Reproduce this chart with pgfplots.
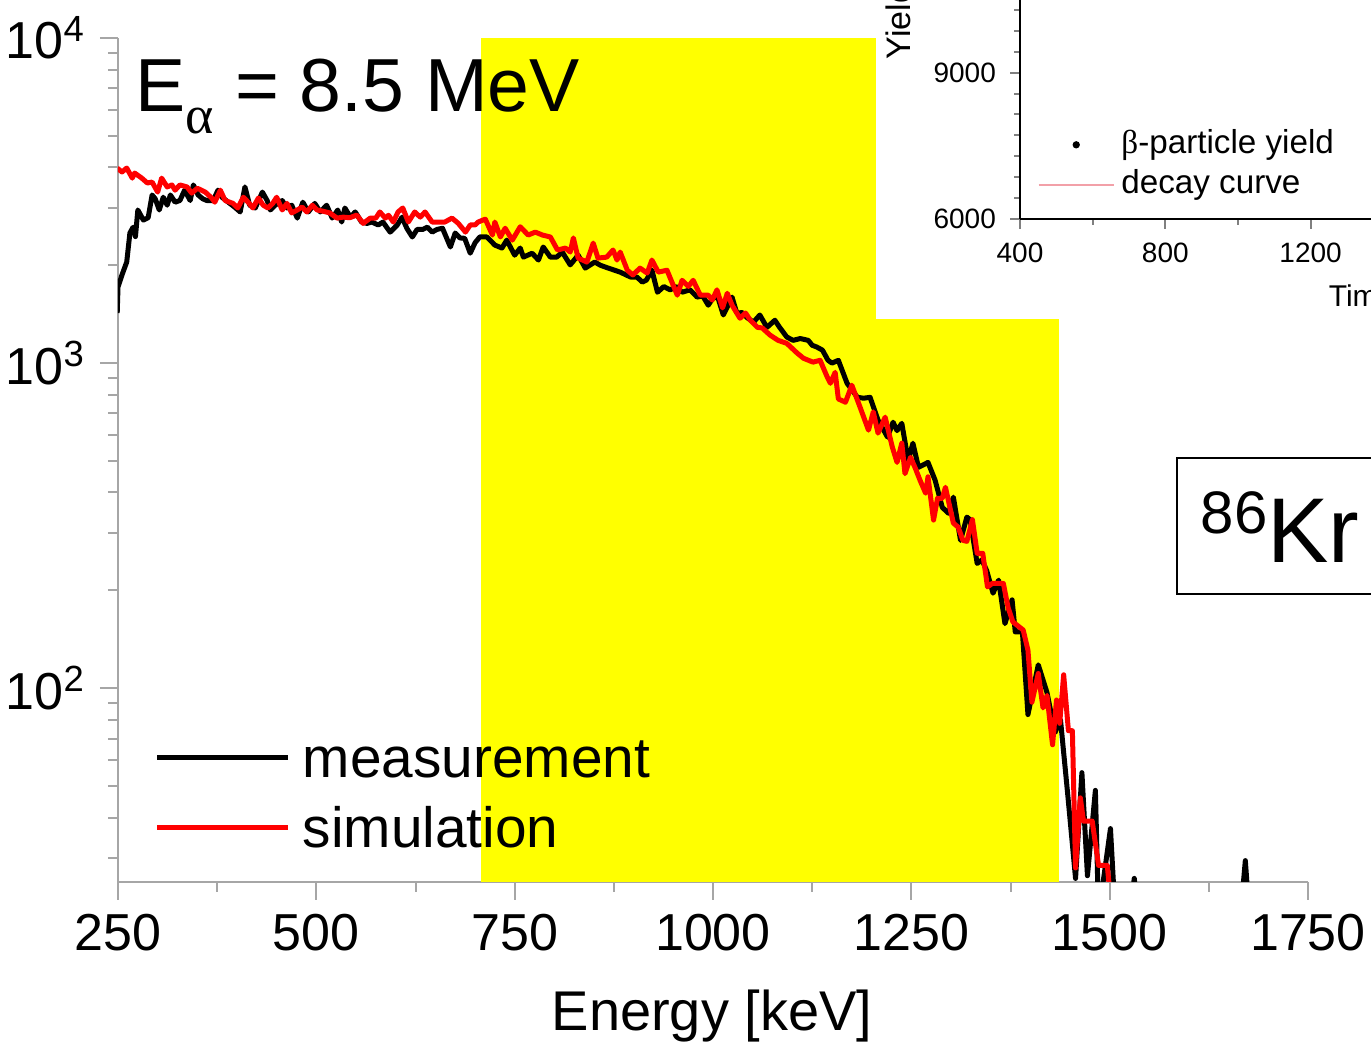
\documentclass[border=0pt]{standalone}
\usepackage{fontspec}
\setmainfont{Liberation Sans}
\newfontfamily\seriffont{Liberation Serif}
\usepackage{pgfplots}
\pgfplotsset{compat=1.18}
\definecolor{axisgray}{HTML}{A6A6A6}
\definecolor{decayred}{HTML}{F2A0A8}
\definecolor{hlyellow}{HTML}{FFFF00}
\begin{document}
\begin{tikzpicture}
\useasboundingbox (0,0) rectangle (342.75pt,260.25pt);
\clip (0,0) rectangle (342.75pt,260.25pt);
% ---------------- main axis ----------------
\begin{axis}[
  at={(29.5pt,39.75pt)}, anchor=south west,
  scale only axis, width=297.5pt, height=211pt,
  xmin=250, xmax=1750, ymode=log, ymin=25.35, ymax=10000,
  axis x line*=bottom, axis y line*=left,
  axis line style={draw=axisgray, line width=0.5pt, -},
  tick style={draw=axisgray, line width=0.5pt},
  tick align=outside, tick pos=left,
  major tick length=4.5pt, minor tick length=2.5pt,
  xtick={250,500,750,1000,1250,1500,1750},
  xticklabels={250,500,750,1000,1250,1500,1750},
  minor x tick num=1,
  ytick={100,1000,10000},
  yticklabels={10\textsuperscript{2},10\textsuperscript{3},10\textsuperscript{4}},
  minor ytick={30,40,50,60,70,80,90,200,300,400,500,600,700,800,900,2000,3000,4000,5000,6000,7000,8000,9000},
  ticklabel style={font=\fontsize{13}{15}\selectfont},
  legend image code/.code={\draw[#1] (0pt,0pt) -- (32.75pt,0pt);},
  legend style={at={(0.0303,0.1718)}, anchor=north west, draw=none, fill=none,
    inner sep=0pt, row sep=7.5pt,
    font=\fontsize{14.2}{16}\selectfont,
    nodes={inner sep=0pt, text height=10pt, text depth=0pt},
    /tikz/every odd column/.append style={column sep=3pt}},
  legend cell align=left,
]
\fill[hlyellow] (axis cs:707.7,10000) rectangle (axis cs:1205.7,10);
\fill[hlyellow] (axis cs:1205.7,1371) rectangle (axis cs:1436,10);
\addplot[black, line width=1.25pt, line join=round] coordinates {
(249,1425) (250,1714) (255,1867) (261,2046) (265,2513) (269,2619) (272,2450) (275,2958)
(282,2754) (288,2800) (293,3290) (297,3200) (302,2958) (307,3238) (312,3060) (316,3290)
(322,3126) (328,3163) (334,3404) (341,3163) (345,3532) (351,3290) (357,3200) (362,3163)
(370,3163) (376,3404) (381,3238) (389,3126) (397,3020) (404,2917) (410,3483) (416,3060)
(423,3000) (432,3358) (438,3163) (442,2958) (448,3060) (457,3163) (463,3000) (469,3060)
(476,2793) (483,3126) (490,2917) (498,3100) (505,2917) (513,3060) (520,2793) (527,2958)
(532,2716) (536,3000) (543,2812) (549,2917) (557,2716) (564,2690) (570,2716) (578,2660)
(584,2716) (593,2529) (602,2660) (608,2812) (614,2600) (621,2443) (627,2577) (634,2577)
(640,2619) (646,2529) (652,2577) (659,2600) (669,2276) (675,2513) (681,2427) (687,2420)
(694,2178) (700,2344) (706,2443) (715,2443) (725,2307) (734,2259) (740,2389) (750,2148)
(757,2259) (761,2118) (772,2178) (780,2075) (786,2276) (795,2118) (803,2118) (810,2196)
(820,2005) (830,2148) (839,1960) (851,2046) (858,2000) (868,1960) (883,1905) (896,1840)
(904,1840) (911,1775) (916,1800) (923,1931) (930,1652) (938,1720) (946,1680) (954,1720)
(961,1652) (971,1680) (980,1596) (987,1610) (994,1507) (1000,1585) (1006,1596) (1013,1406)
(1024,1596) (1030,1426) (1037,1430) (1043,1380) (1051,1336) (1059,1406) (1068,1288) (1078,1355)
(1084,1288) (1093,1203) (1101,1175) (1110,1190) (1120,1175) (1125,1135) (1131,1120) (1138,1096)
(1145,1020) (1150,1000) (1158,1020) (1169,867) (1182,785) (1190,780) (1198,785) (1208,668)
(1220,592) (1227,658) (1232,620) (1238,653) (1246,502) (1252,567) (1259,478) (1271,495)
(1280,436) (1289,360) (1297,345) (1303,387) (1312,285) (1320,336) (1324,330) (1333,242)
(1339,248) (1345,230) (1353,196) (1360,215) (1368,158) (1377,187) (1381,149) (1390,149)
(1397,83) (1410,118) (1421,97) (1431,73) (1438,80) (1447,47.5) (1457,26) (1465,55)
(1472,26.5) (1482,48.5) (1486,20) (1501,37) (1507,20) (1525,20) (1531,26) (1536,20)
(1665,20) (1671,29.5) (1676,20)
};
\addlegendentry{measurement}
\addplot[red, line width=1.25pt, line join=round] coordinates {
(249,3981) (255,3872) (261,3981) (268,3707) (271,3843) (280,3707) (287,3581) (293,3605)
(300,3358) (305,3707) (312,3483) (318,3532) (322,3404) (328,3532) (337,3483) (343,3334)
(350,3451) (360,3358) (368,3221) (372,3126) (379,3404) (385,3163) (395,3100) (401,3000)
(408,3238) (414,3126) (420,3000) (427,3221) (433,3060) (439,3000) (445,3100) (450,3238)
(457,2958) (463,3100) (469,2897) (476,2958) (482,3020) (488,2917) (495,3060) (501,2958)
(509,2930) (517,2897) (526,2793) (534,2812) (542,2800) (551,2853) (559,2690) (568,2793)
(575,2793) (580,2917) (587,2793) (591,2850) (597,2716) (603,2917) (609,3000) (616,2716)
(624,2917) (631,2812) (637,2917) (646,2716) (653,2716) (662,2716) (671,2793) (679,2690)
(688,2529) (694,2660) (700,2660) (704,2716) (713,2773) (722,2477) (725,2716) (732,2443)
(738,2600) (747,2389) (757,2627) (767,2477) (776,2529) (785,2477) (795,2443) (804,2228)
(814,2259) (820,2196) (824,2427) (830,2104) (841,2046) (849,2340) (855,2104) (866,2118)
(874,2228) (879,2075) (883,2196) (892,1931) (899,1867) (908,1960) (917,1892) (923,2075)
(931,1905) (942,1931) (955,1618) (961,1798) (969,1722) (975,1798) (984,1618) (994,1618)
(999,1563) (1005,1680) (1012,1479) (1018,1640) (1024,1507) (1034,1374) (1041,1426) (1047,1355)
(1056,1288) (1062,1283) (1072,1219) (1082,1175) (1093,1150) (1106,1074) (1114,1035) (1126,1007)
(1135,1020) (1144,906) (1148,867) (1154,937) (1158,776) (1167,758) (1175,855) (1186,725)
(1196,622) (1202,708) (1208,609) (1217,682) (1226,552) (1232,495) (1238,567) (1242,457)
(1249,513) (1255,475) (1261,436) (1268,398) (1271,447) (1278,329) (1283,384) (1289,384)
(1293,415) (1303,322) (1309,313) (1315,285) (1320,283) (1327,330) (1333,260) (1340,260)
(1346,205) (1352,210) (1358,210) (1366,210) (1372,177) (1378,160) (1391,151) (1397,131)
(1402,90.6) (1410,111) (1416,87) (1421,95) (1428,67) (1433,92) (1437,78) (1442,110)
(1448,74) (1453,74) (1457,28) (1463,46) (1467,39) (1478,39) (1486,28.5) (1497,28.5)
(1503,20)
};
\addlegendentry{simulation}
\end{axis}
% ---------------- inset axis ----------------
\begin{axis}[
  at={(255pt,205.5pt)}, anchor=south west,
  scale only axis, width=145.3pt, height=73.15pt,
  xmin=400, xmax=2000, ymin=6000, ymax=12000,
  axis x line*=bottom, axis y line*=left,
  axis line style={-, line width=0.5pt},
  tick style={line width=0.5pt},
  tick pos=left, tick align=outside,
  major tick length=2.5pt, minor tick length=1.5pt,
  xtick={400,800,1200}, xticklabels={400,800,1200},
  ytick={6000,9000}, yticklabels={6000,9000},
  minor xtick={600,1000},
  minor ytick={6428.6,6857.1,7285.7,7714.3,8142.9,8571.4,9428.6,9857.1,10285.7,10714.3},
  ticklabel style={font=\fontsize{7}{8}\selectfont},
  legend image code/.code={\draw[mark repeat=2,mark phase=2,#1] plot coordinates {(0pt,0pt) (9.4pt,0pt) (18.75pt,0pt)};},
  legend style={at={(0.0293,0.3144)}, anchor=north west, draw=none, fill=none,
    inner sep=0pt, row sep=1.5pt,
    font=\fontsize{8.3}{9}\selectfont,
    nodes={inner sep=0pt, text height=6.5pt, text depth=2pt},
    /tikz/every odd column/.append style={column sep=1.75pt}},
  legend cell align=left,
]
\addlegendimage{only marks, mark=*, mark size=0.7pt, black}
\addlegendentry{{\seriffont β}-particle yield}
\addlegendimage{decayred, line width=0.4pt}
\addlegendentry{decay curve}
\end{axis}
% ---------------- texts ----------------
\node[anchor=base west, inner sep=0pt] at (33.75pt,232.25pt)
  {\fontsize{18.8}{21}\selectfont E\raisebox{-5.5pt}{\fontsize{13.5}{15}\selectfont\seriffont α} = 8.5 MeV};
\node[anchor=base, inner sep=0pt] at (178pt,2.75pt) {\fontsize{14}{16}\selectfont Energy [keV]};
\draw[line width=0.7pt] (294.25pt,111.75pt) rectangle (352pt,145.75pt);
\node[anchor=base west, inner sep=0pt] at (300pt,119.75pt)
  {\raisebox{7.25pt}{\fontsize{15}{16}\selectfont 86}\fontsize{23}{25}\selectfont Kr};
\node[anchor=base west, inner sep=0pt] at (332pt,183.5pt) {\fontsize{7.5}{9}\selectfont Time [s]};
\node[anchor=base west, inner sep=0pt, rotate=90] at (227.5pt,245.25pt) {\fontsize{8.5}{10}\selectfont Yield};
\end{tikzpicture}
\end{document}
